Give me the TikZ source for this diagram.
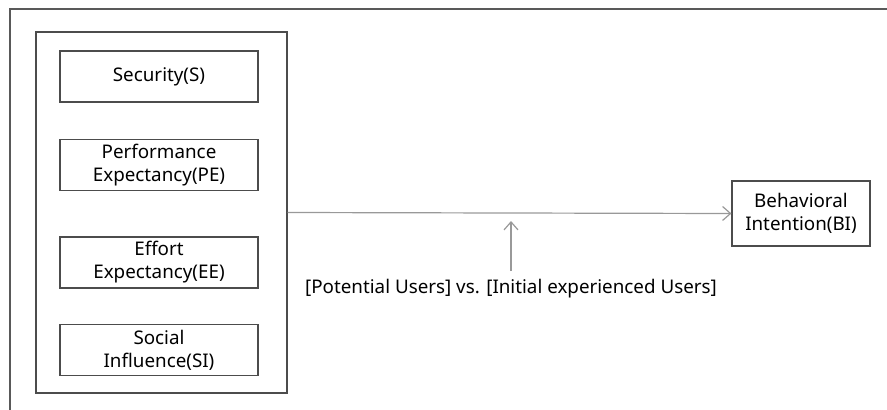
\documentclass[tikz,border=0pt]{standalone}
\usepackage{fontspec}
\setmainfont{Noto Sans}
\usetikzlibrary{arrows, arrows.meta, positioning, calc}

\begin{document}
\begin{tikzpicture}[x=1pt, y=-1pt,
  factor/.style={draw=black!70, line width=1.1pt, minimum width=198pt, minimum height=51pt, align=center, inner sep=0pt, font=\fontsize{18.8}{23}\selectfont},
  link/.style={draw=black!40, line width=1.2pt, ->, >={Straight Barb[length=8pt,width=14pt]}}]
\useasboundingbox (0,0) rectangle (887,410);
\draw[black!65, line width=1.2pt] (887,9) -- (10,9) -- (10,410);

\node [draw=black!70, line width=1.1pt, minimum width=251pt, minimum height=361pt] (G) at (161.5,212.5) {};
\node [factor] (S) at (159,76.5) {Security(S)};
\node [factor] (PE) at (159,165) {Performance\\Expectancy(PE)};
\node [factor] (EE) at (159,262.5) {Effort\\Expectancy(EE)};
\node [factor] (SI) at (159,350) {Social\\Influence(SI)};

\node [factor, minimum width=138pt, minimum height=65pt] (BI) at (801,213.5) {Behavioral\\Intention(BI)};
\draw[link] (G.east) -- (BI.west);

\node [font=\fontsize{18.8}{23}\selectfont] (U) at (511,289) {[Potential Users] vs. [Initial experienced Users]};
\coordinate (M) at (511,221);
\draw[link, shorten <=5pt] (U.north) -- (M);
\end{tikzpicture}
\end{document}
